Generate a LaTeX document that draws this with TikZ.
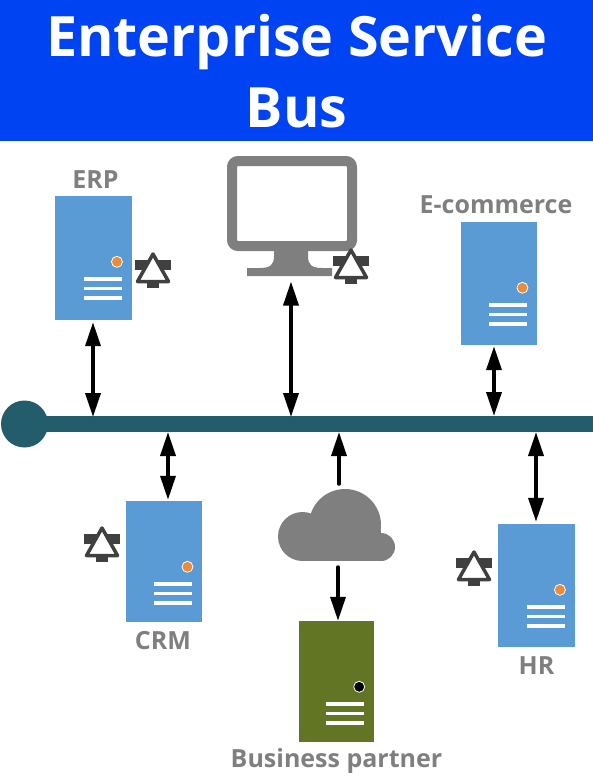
\documentclass[tikz,border=0pt]{standalone}
\usepackage{fontspec}
\setmainfont{Open Sans}
\usepackage{xcolor}
\usetikzlibrary{positioning,calc,arrows.meta}

\definecolor{titleblue}{RGB}{0,67,242}
\definecolor{busteal}{RGB}{35,92,107}
\definecolor{serverblue}{RGB}{91,155,213}
\definecolor{partnergreen}{RGB}{97,117,37}
\definecolor{dotorange}{RGB}{237,139,60}
\definecolor{labelgray}{RGB}{127,127,127}
\definecolor{alarmgray}{RGB}{64,64,64}

\tikzset{
	serverbox/.style={draw=none,inner sep=0pt},
	serverlabel/.style={font=\bfseries\fontsize{25}{28}\selectfont,text=labelgray,inner sep=0pt},
	link/.style={line width=3.5pt,{Triangle[length=24pt,width=15pt]}-{Triangle[length=24pt,width=15pt]}},
	linkout/.style={line width=3.5pt,line cap=round,-{Triangle[length=24pt,width=15pt]}},
	alarm/.pic={
		\fill[alarmgray] (-18,8) rectangle (18,18);
		\fill[alarmgray] (-6,30) rectangle (6,36);
		\draw[alarmgray,fill=white,line width=3.5pt,line join=round] (0,2) -- (15.5,29.5) -- (-15.5,29.5) -- cycle;
	}
}

\begin{document}
\begin{tikzpicture}[x=1pt,y=-1pt]
	\useasboundingbox (0,0) rectangle (593,777);

	% titre
	\fill[titleblue] (0,0) rectangle (593,141);
	\node[font=\bfseries\fontsize{55.6}{71}\selectfont,text=white,align=center,inner sep=0pt] (title) at (296.5,71) {Enterprise Service\\Bus};

	% bus
	\node[fill=busteal,minimum width=569pt,minimum height=16pt,inner sep=0pt,anchor=west] (bus) at (24,424) {};
	\node[circle,fill=busteal,minimum size=47pt,inner sep=0pt] (hub) at (24.5,424) {};

	% serveurs
	\foreach \nm/\cx/\cy/\boxw/\boxh/\boxc/\dotc in {erp/93.5/258/76.5/124/serverblue/dotorange,ecom/499/283.5/76.5/123/serverblue/dotorange,crm/164/561.5/76.5/121/serverblue/dotorange,hr/536.5/585.5/76.5/123/serverblue/dotorange,partner/336.5/681.5/75/121/partnergreen/black} {
		\node[serverbox,minimum width=\boxw pt,minimum height=\boxh pt,fill=\boxc] (\nm) at (\cx,\cy) {};
		\foreach \dy in {83,92.5,102} {
			\fill[white] ($(\nm.north east)+(-48,\dy-1.8)$) rectangle ($(\nm.north east)+(-10,\dy+1.8)$);
		}
		\node[circle,fill=\dotc,draw=white,line width=0.8pt,minimum size=11pt,inner sep=0pt] (\nm dot) at ($(\nm.north east)+(-15,66)$) {};
	}

	% noms
	\node[serverlabel] (erplabel) at (95.5,179.5) {ERP};
	\node[serverlabel] (ecomlabel) at (496,205) {E-commerce};
	\node[serverlabel] (crmlabel) at (163,640.5) {CRM};
	\node[serverlabel] (hrlabel) at (536.5,665.5) {HR};
	\node[serverlabel] (partnerlabel) at (336.5,760.5) {Business partner};

	% poste de travail
	\node[draw=labelgray,fill=white,line width=10pt,rounded corners=6pt,minimum width=120pt,minimum height=85pt,inner sep=0pt] (monitor) at (292,203.5) {};
	\fill[labelgray] (274,250) -- (308,250) -- (308,256) .. controls (308,265) and (312,268) .. (322,268) -- (332,268) -- (332,276) -- (247,276) -- (247,268) -- (260,268) .. controls (270,268) and (274,265) .. (274,256) -- cycle;
	\coordinate (monitorfoot) at (291,281.5);

	% nuage
	\fill[labelgray] (302.5,536.5) circle (24.5);
	\fill[labelgray] (345,525) circle (36);
	\fill[labelgray] (381,547) circle (14);
	\fill[labelgray] (302.5,530) rectangle (381,561);
	\coordinate (cloudtop) at (339,484);
	\coordinate (cloudfoot) at (338,567);

	% alarmes
	\pic at (153,252) {alarm};
	\pic at (351,248) {alarm};
	\pic at (102,526) {alarm};
	\pic at (474,550) {alarm};

	% points sur le bus
	\coordinate (porterp) at (93,417);
	\coordinate (portmon) at (291,417);
	\coordinate (portecom) at (494,416);
	\coordinate (portcrm) at (168,432);
	\coordinate (portcloud) at (339,432);
	\coordinate (porthr) at (536,432);

	% liaisons
	\draw[link] ($(porterp |- erp.south)+(0,2)$) -- (porterp);
	\draw[link] (monitorfoot) -- (portmon);
	\draw[link] ($(portecom |- ecom.south)+(0,1)$) -- (portecom);
	\draw[link] (portcrm) -- ($(portcrm |- crm.north)+(0,-1)$);
	\draw[link] (porthr) -- ($(porthr |- hr.north)+(0,-2)$);
	\draw[linkout] (cloudtop) -- (portcloud);
	\draw[linkout] (cloudfoot) -- (cloudfoot |- partner.north);
\end{tikzpicture}
\end{document}
